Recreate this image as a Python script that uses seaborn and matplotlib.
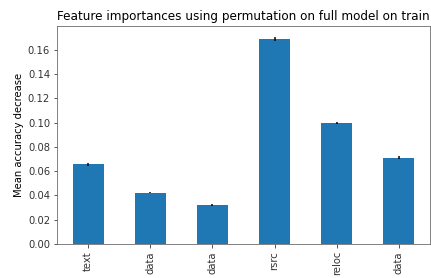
import matplotlib
matplotlib.use("Agg")
import matplotlib.pyplot as plt
import seaborn as sns
import numpy as np
import pandas as pd

features = ["text", "data", "data", "rsrc", "reloc", "data"]
importances = [0.0655, 0.0422, 0.0323, 0.1690, 0.0998, 0.0710]
errors = [0.0012, 0.0006, 0.0006, 0.0015, 0.0006, 0.0012]
title = "Feature importances using permutation on full model on train"
ylabel = "Mean accuracy decrease"

df = pd.DataFrame({"pos": np.arange(len(features)), "imp": importances})

plt.rcParams["font.family"] = ["DejaVu Sans"]
fig = plt.figure(figsize=(431 / 72, 278 / 72), dpi=72)
ax = fig.add_axes([57 / 431, 1 - 244 / 278, (430 - 57) / 431, (244 - 26) / 278])

sns.barplot(data=df, x="pos", y="imp", color="#1f77b4", saturation=1,
            width=0.5, ax=ax, errorbar=None)
ax.errorbar(df["pos"], df["imp"], yerr=errors, fmt="none", ecolor="black", elinewidth=1.5)

ax.set_xlim(-0.5, len(features) - 0.5)
ax.set_ylim(0, 0.1795)
ax.set_yticks(np.arange(0, 0.17, 0.02))
ax.set_yticklabels([f"{v:.2f}" for v in np.arange(0, 0.17, 0.02)])
ax.set_xticks(np.arange(len(features)))
ax.set_xticklabels(features, rotation=90)
ax.set_xlabel("")
ax.set_ylabel(ylabel, fontsize=10)
ax.set_title(title, fontsize=12)
ax.tick_params(labelsize=10, colors="#333333", labelcolor="#333333")
for s in ax.spines.values():
    s.set_color("#666666")
    s.set_visible(True)

fig.savefig("out.png", dpi=72)
